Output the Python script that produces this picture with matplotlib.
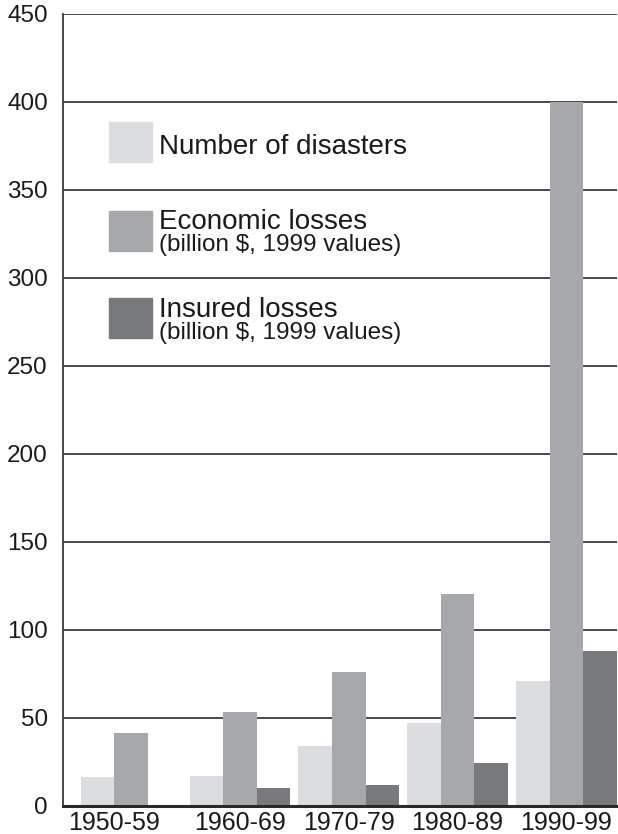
import matplotlib
matplotlib.use('Agg')
import matplotlib.pyplot as plt
import numpy as np
from matplotlib.patches import Rectangle

plt.rcParams['font.family'] = ['Liberation Sans', 'DejaVu Sans']

decades = ['1950-59', '1960-69', '1970-79', '1980-89', '1990-99']
num_disasters = [16, 17, 34, 47, 71]
economic_losses = [41, 53, 76, 120, 400]
insured_losses = [0, 10, 12, 24, 88]

legend_labels = [
    ('Number of disasters', None),
    ('Economic losses', '(billion $, 1999 values)'),
    ('Insured losses', '(billion $, 1999 values)'),
]
colours = ['#dcdde0', '#a7a8ab', '#78797c']
grid_colour = '#3a3a3a'
text_colour = '#1a1a1a'


def main() -> None:
    fig = plt.figure(figsize=(6.18, 8.34), dpi=100)
    ax = fig.add_axes([0.102, 0.034, 0.896, 0.9495])

    x = np.arange(len(decades))
    w = 0.309
    series = [num_disasters, economic_losses, insured_losses]
    for i, (vals, c) in enumerate(zip(series, colours)):
        ax.bar(x + (i - 1) * w, vals, width=w, color=c, zorder=3)

    ax.set_ylim(0, 450)
    ax.set_xlim(-0.627, 4 + 1.5 * w)
    ax.set_yticks(np.arange(0, 451, 50))
    ax.yaxis.grid(True, color=grid_colour, linewidth=1.3, zorder=0)
    ax.set_axisbelow(True)

    # first decade has no insured bar, so its label sits under two bars
    tick_pos = x.astype(float)
    tick_pos[0] = -w / 2
    ax.set_xticks(tick_pos)
    ax.set_xticklabels(decades)

    ax.tick_params(axis='both', length=0, labelsize=17.5, colors=text_colour)
    ax.tick_params(axis='x', labelsize=18, pad=4)
    ax.tick_params(axis='y', pad=11)

    for side in ('top', 'right'):
        ax.spines[side].set_visible(False)
    ax.spines['left'].set_color(grid_colour)
    ax.spines['left'].set_linewidth(1.3)
    ax.spines['bottom'].set_color('#2a2a2a')
    ax.spines['bottom'].set_linewidth(2.2)
    ax.spines['bottom'].set_zorder(4)

    # hand-placed legend, no frame (grid lines run between entries)
    patch_tops = [0.8632, 0.7506, 0.6406]
    main_baselines = [0.8226, 0.7278, 0.6166]
    sub_baselines = [None, 0.7000, 0.5888]
    for (main_txt, sub_txt), c, top, yb, ys in zip(
            legend_labels, colours, patch_tops, main_baselines, sub_baselines):
        ax.add_patch(Rectangle((0.083, top - 0.0506), 0.078, 0.0506,
                               transform=ax.transAxes, color=c,
                               clip_on=False, zorder=3))
        ax.text(0.173, yb, main_txt, transform=ax.transAxes,
                fontsize=20, va='baseline', ha='left', color=text_colour)
        if sub_txt is not None:
            ax.text(0.173, ys, sub_txt, transform=ax.transAxes,
                    fontsize=17.5, va='baseline', ha='left', color=text_colour)

    fig.savefig('out.png', dpi=100)
    plt.close(fig)


if __name__ == '__main__':
    main()
